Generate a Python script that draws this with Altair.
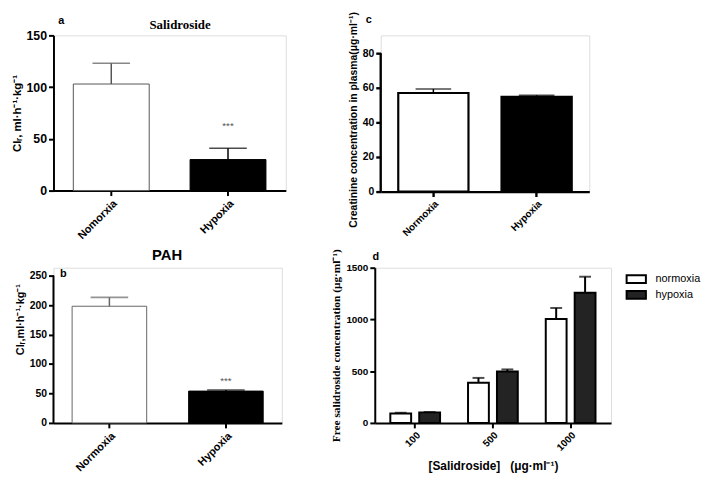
import altair as alt
import pandas as pd

# ---------------- data ----------------
a_groups = ["Nomorxia", "Hypoxia"]
a_mean = [103, 30]
a_sd = [20, 11]
a_ticks = [0, 50, 100, 150]

b_groups = ["Normoxia", "Hypoxia"]
b_mean = [198, 54]
b_sd = [15, 2]
b_ticks = [0, 50, 100, 150, 200, 250]

c_groups = ["Normoxia", "Hypoxia"]
c_mean = [57, 54.8]
c_sd = [2.3, 0.9]
c_ticks = [0, 20, 40, 60, 80]

d_conc = ["100", "500", "1000"]
d_conditions = ["normoxia", "hypoxia"]
d_normoxia_mean = [92, 388, 1005]
d_normoxia_sd = [6, 47, 106]
d_hypoxia_mean = [102, 497, 1258]
d_hypoxia_sd = [3, 20, 155]
d_ticks = [0, 500, 1000, 1500]

SANS = "Liberation Sans"
SERIF = "Liberation Serif"


def frame(groups, means, sds):
    return pd.DataFrame({"group": groups, "mean": means, "top": [m + s for m, s in zip(means, sds)]})


def label_mark(text, xy, font=SANS, size=11):
    return alt.Chart(pd.DataFrame({"t": [text]})).mark_text(
        font=font, fontWeight="bold", fontSize=size, color="black", baseline="middle").encode(
        text="t:N", x=alt.value(xy[0]), y=alt.value(xy[1]))


def two_bar_panel(groups, means, sds, ticks, ytitle, ytitle_size, ylab_size, xlab_size,
                  width, height, pad_inner, pad_outer, ydomain_max, white_stroke, stroke_w,
                  labels, stars_dy=None, axis_w=2, titleY=None, cap=38,
                  draw_axis_rule=False, title_padding=4):
    df = frame(groups, means, sds)
    base = alt.Chart(df)
    xenc = alt.X("group:N", sort=groups,
                 scale=alt.Scale(paddingInner=pad_inner, paddingOuter=pad_outer),
                 axis=alt.Axis(title=None, labelAngle=-45, labelFont=SANS, labelFontWeight="bold",
                               labelFontSize=xlab_size, labelColor="black", domainColor="black",
                               domainWidth=axis_w, tickColor="black", tickWidth=axis_w, tickSize=5,
                               labelPadding=2))
    axis_kw = dict(values=ticks, title=ytitle, titleFont=SANS, titleFontSize=ytitle_size,
                   titleFontWeight="bold", titleColor="black", labelFont=SANS, labelFontWeight="bold",
                   labelFontSize=ylab_size, labelColor="black", grid=False, domain=not draw_axis_rule,
                   domainColor="black", domainWidth=axis_w, tickColor="black", tickWidth=axis_w,
                   tickSize=5, labelPadding=2, titlePadding=title_padding)
    if titleY is not None:
        axis_kw["titleY"] = titleY
    yscale = alt.Scale(domain=[0, ydomain_max], nice=False, zero=True)
    yaxis = alt.Axis(**axis_kw)

    is_hyp = alt.datum.group == "Hypoxia"
    fill = alt.condition(is_hyp, alt.value("black"), alt.value("white"))
    stroke = alt.condition(is_hyp, alt.value("black"), alt.value(white_stroke))

    bars = base.mark_bar(strokeWidth=stroke_w).encode(
        x=xenc, y=alt.Y("mean:Q", scale=yscale, axis=yaxis), fill=fill, stroke=stroke)
    err = base.mark_rule(strokeWidth=1.5).encode(
        x=xenc, y=alt.Y("mean:Q", scale=yscale, axis=yaxis), y2="top:Q", stroke=stroke)
    caps = base.mark_tick(size=cap, thickness=1.6).encode(
        x=xenc, y=alt.Y("top:Q", scale=yscale, axis=yaxis), color=stroke)
    layers = [bars, err, caps]
    if stars_dy is not None:
        stars = base.transform_filter(is_hyp).mark_text(
            text="***", dy=stars_dy, fontSize=10, font=SANS, color="#555555", baseline="middle").encode(
            x=xenc, y=alt.Y("top:Q", scale=yscale, axis=yaxis))
        layers.append(stars)
    if draw_axis_rule:
        rdf = pd.DataFrame({"lo": [ticks[0]], "hi": [ticks[-1]]})
        rule = alt.Chart(rdf).mark_rule(strokeWidth=axis_w, color="black").encode(
            x=alt.value(0), y=alt.Y("lo:Q", scale=yscale, axis=yaxis), y2="hi:Q")
        layers.append(rule)
    layers.extend(labels)
    return alt.layer(*layers).properties(width=width, height=height)


panel_a = two_bar_panel(
    a_groups, a_mean, a_sd, a_ticks, "Clᵣ, ml·h⁻¹·kg⁻¹", 11.5, 12.5, 11,
    235, 157, 0.35, 0.17, 150, "#555555", 1,
    [label_mark("a", (8, -15)), label_mark("Salidroside", (128, -10), font=SERIF, size=13)],
    stars_dy=-22)

panel_b = two_bar_panel(
    b_groups, b_mean, b_sd, b_ticks, "Clᵣ,ml·h⁻¹·kg⁻¹", 11, 10.5, 11,
    231, 157, 0.36, 0.16, 263.4, "#666666", 1,
    [label_mark("b", (10, 6)), label_mark("PAH", (115, -13), size=15)],
    stars_dy=-9, draw_axis_rule=True, titleY=52)

panel_c = two_bar_panel(
    c_groups, c_mean, c_sd, c_ticks, "Creatinine concentration in plasma(μg·ml⁻¹)", 10.5, 10.5, 10,
    211, 158, 0.32, 0.17, 90.3, "black", 2.2,
    [label_mark("c", (-12, -16))], axis_w=2.4, titleY=85, cap=36, draw_axis_rule=True)

# panel d
rows = []
for i, conc in enumerate(d_conc):
    rows.append({"conc": conc, "condition": "normoxia", "mean": d_normoxia_mean[i],
                 "top": d_normoxia_mean[i] + d_normoxia_sd[i]})
    rows.append({"conc": conc, "condition": "hypoxia", "mean": d_hypoxia_mean[i],
                 "top": d_hypoxia_mean[i] + d_hypoxia_sd[i]})
dd = pd.DataFrame(rows)
dbase = alt.Chart(dd)
dx = alt.X("conc:N", sort=d_conc, scale=alt.Scale(paddingInner=0.36, paddingOuter=0.2),
           axis=alt.Axis(title="[Salidroside]\u00a0\u00a0\u00a0(μg·ml⁻¹)", titleFont=SANS, titleFontSize=12,
                         titleFontWeight="bold", titleColor="black", titlePadding=8,
                         labelAngle=-45, labelFont=SANS, labelFontWeight="bold", labelFontSize=10,
                         labelColor="black", domainColor="black", domainWidth=2, tickColor="black",
                         tickWidth=2, tickSize=5, labelPadding=2))
dxo = alt.XOffset("condition:N", sort=d_conditions, scale=alt.Scale(paddingInner=0.28))
dyscale = alt.Scale(domain=[0, 1500], nice=False, zero=True)
dyaxis = alt.Axis(values=d_ticks, format="d", title="Free salidroside concentration (μg·ml⁻¹)",
                  titleFont=SERIF, titleFontSize=11.5, titleFontWeight="bold", titleColor="black",
                  labelFont=SANS, labelFontWeight="bold", labelFontSize=10, labelColor="black",
                  grid=False, domainColor="black", domainWidth=2, tickColor="black", tickWidth=2,
                  tickSize=5, labelPadding=2, titlePadding=4)
dfill = alt.Fill("condition:N", scale=alt.Scale(domain=d_conditions, range=["white", "#232323"]),
                 legend=alt.Legend(title=None, orient="none", legendX=257, legendY=4, padding=0,
                                   symbolType="M-1.5,-0.6H1.5V0.6H-1.5Z", symbolSize=169,
                                   symbolStrokeColor="black", symbolStrokeWidth=2,
                                   labelFont=SANS, labelFontSize=11, labelColor="black",
                                   rowPadding=-2, labelOffset=12))
dbars = dbase.mark_bar(stroke="black", strokeWidth=2).encode(
    x=dx, xOffset=dxo, y=alt.Y("mean:Q", scale=dyscale, axis=dyaxis), fill=dfill)
derr = dbase.mark_rule(strokeWidth=2, color="black").encode(
    x=dx, xOffset=dxo, y=alt.Y("mean:Q", scale=dyscale, axis=dyaxis), y2="top:Q")
dcaps = dbase.mark_tick(size=12, thickness=2, color="black").encode(
    x=dx, xOffset=dxo, y=alt.Y("top:Q", scale=dyscale, axis=dyaxis))
panel_d = alt.layer(dbars, derr, dcaps, label_mark("d", (1, -11))).properties(width=239, height=157)

row1 = alt.hconcat(panel_a, panel_c, spacing=61)
row2 = alt.hconcat(panel_b, panel_d, spacing=48).resolve_legend(fill="independent")
chart = alt.vconcat(row1, row2, spacing=5).resolve_legend(fill="independent").properties(
    padding={"left": 2, "top": 0, "right": 0, "bottom": 0}
).configure_view(stroke=None).configure(background="white")

chart.save("out.html", embed_options={"renderer": "svg", "actions": False})
